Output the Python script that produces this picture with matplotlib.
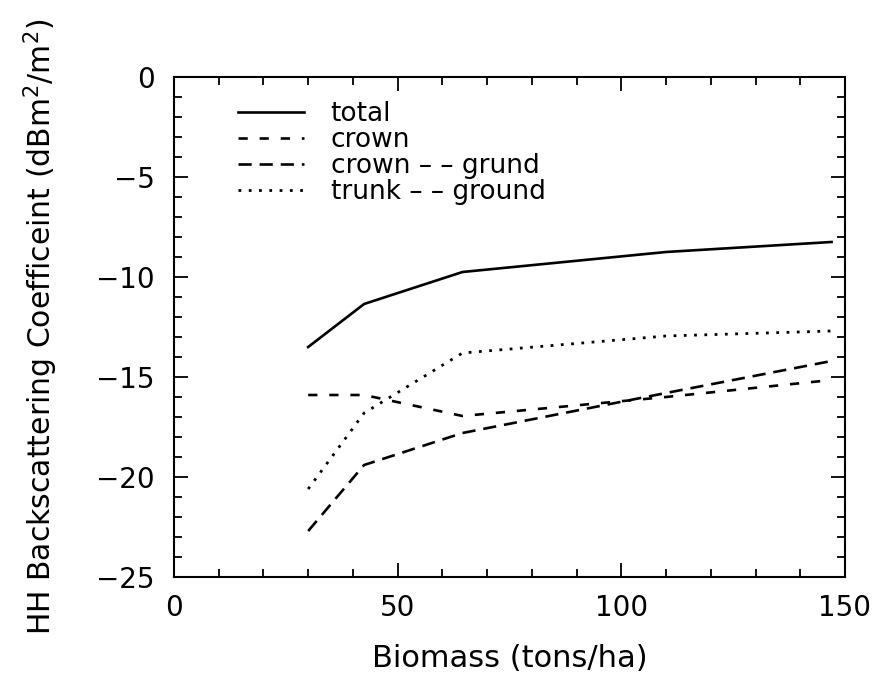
import numpy as np
import matplotlib
matplotlib.use('Agg')
import matplotlib.pyplot as plt
from matplotlib.ticker import MultipleLocator

biomass = [30, 42.5, 64.5, 110, 147]
total = [-13.5, -11.35, -9.75, -8.75, -8.25]
crown = [-15.9, -15.9, -16.95, -16.0, -15.15]
crown_ground = [-22.7, -19.4, -17.8, -15.8, -14.2]
trunk_ground = [-20.6, -16.8, -13.8, -12.95, -12.7]

plt.rcParams['font.family'] = 'DejaVu Sans'
plt.rcParams['font.size'] = 20

fig = plt.figure(figsize=(8.76, 6.77), dpi=100)
ax = fig.add_axes([0.1986, 0.1477, 0.766, 0.7386])

ax.plot(biomass, total, color='black', lw=1.9, label='total')
ax.plot(biomass, crown, color='black', lw=1.9, linestyle=(0, (3.5, 4.5)), label='crown')
ax.plot(biomass, crown_ground, color='black', lw=1.9, linestyle=(0, (5, 3)),
        label='crown \u2013 \u2013 grund')
ax.plot(biomass, trunk_ground, color='black', lw=2.0, linestyle=(0, (1, 2.7)),
        label='trunk \u2013 \u2013 ground')

ax.set_xlim(0, 150)
ax.set_ylim(-25, 0)
ax.xaxis.set_major_locator(MultipleLocator(50))
ax.xaxis.set_minor_locator(MultipleLocator(10))
ax.yaxis.set_major_locator(MultipleLocator(5))
ax.yaxis.set_minor_locator(MultipleLocator(1))
ax.tick_params(which='both', direction='in', top=True, right=True, width=1.3)
ax.tick_params(which='major', length=10)
ax.tick_params(which='minor', length=5.5)
ax.tick_params(axis='y', which='major', pad=14)
ax.tick_params(axis='x', which='major', pad=12)
for s in ax.spines.values():
    s.set_linewidth(1.5)

ax.set_xlabel('Biomass (tons/ha)', fontsize=22, labelpad=16)
ax.set_ylabel('HH Backscattering Coefficeint (dBm$^2$/m$^2$)', fontsize=21.5,
              labelpad=26)

ax.legend(loc='upper left', bbox_to_anchor=(0.076, 0.978), frameon=False,
          borderpad=0, handlelength=2.5, handletextpad=1.0, labelspacing=0,
          fontsize=19)

fig.savefig('out.png', dpi=100)
